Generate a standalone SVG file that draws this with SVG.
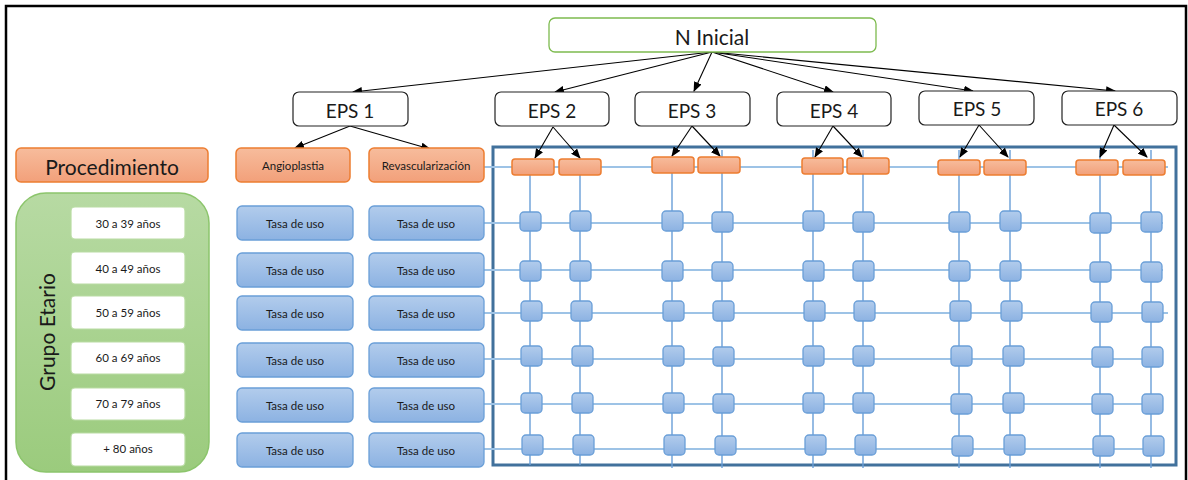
<svg xmlns="http://www.w3.org/2000/svg" width="1188" height="480" viewBox="0 0 1188 480">
<defs>
<linearGradient id="gOr" x1="0" y1="0" x2="0" y2="1"><stop offset="0" stop-color="#F7BC9C"/><stop offset="1" stop-color="#F2A07A"/></linearGradient>
<linearGradient id="gBl" x1="0" y1="0" x2="0" y2="1"><stop offset="0" stop-color="#B2CCEC"/><stop offset="1" stop-color="#8CB2E2"/></linearGradient>
<linearGradient id="gGr" x1="0" y1="0" x2="0" y2="1"><stop offset="0" stop-color="#B7DAA3"/><stop offset="1" stop-color="#9BCB7D"/></linearGradient>
<marker id="arr" markerWidth="10" markerHeight="8" refX="9" refY="4" orient="auto" markerUnits="userSpaceOnUse"><path d="M0,0 L10,4 L0,8 z" fill="#000"/></marker>
<style>
text{font-family:Lato,"Liberation Sans",sans-serif;fill:#1a1a1a;text-anchor:middle;dominant-baseline:central}
.white{fill:#fff;stroke:#222;stroke-width:1.2}
.green{fill:#fff;stroke:#7DBB4F;stroke-width:1.3}
.or{fill:url(#gOr);stroke:#ED7D31;stroke-width:1.5}
.bl{fill:url(#gBl);stroke:#6A9FD8;stroke-width:1.3}
.age{fill:#fff;stroke:#B9DCA3;stroke-width:1.2}
.arrow{stroke:#000;stroke-width:1.1;fill:none;marker-end:url(#arr)}
.hl{stroke:#9DC3E6;stroke-width:2.2;fill:none}
.vl{stroke:#6A9FD8;stroke-width:1.4;fill:none}
.big{font-size:21px}
.eps{font-size:19px}
.sm{font-size:11.5px}
</style>
</defs>
<rect width="1188" height="480" fill="#fff"/>
<path d="M6,480 V6 H1186 V480" fill="none" stroke="#000" stroke-width="2.5"/>

<g id="grid">
<rect x="493" y="147" width="683" height="318" fill="none" stroke="#41719C" stroke-width="3"/>
<path class="hl" d="M484,167 H1168 M484,223 H1163 M484,270 H1163 M484,313 H1168 M484,359 H1163 M484,404 H1163 M484,449 H1163"/>
<path class="vl" d="M530,175 V465 M580,175 V465 M672,173 V468 M722,150 V468 M813,150 V468 M863,150 V468 M959,150 V468 M1010,150 V468 M1100,150 V468 M1151,150 V468"/>
</g>

<g id="connectors">
<path class="arrow" d="M712,52 L353,92"/>
<path class="arrow" d="M712,52 L555,92"/>
<path class="arrow" d="M712,52 L694,91"/>
<path class="arrow" d="M712,52 L833,92"/>
<path class="arrow" d="M712,52 L973,91"/>
<path class="arrow" d="M712,52 L1115,91"/>
<path class="arrow" d="M350,126 L295,148"/>
<path class="arrow" d="M350,126 L430,149"/>
<path class="arrow" d="M553,127 L535,158"/>
<path class="arrow" d="M553,127 L580,158"/>
<path class="arrow" d="M692,126 L672,156"/>
<path class="arrow" d="M692,126 L720,156"/>
<path class="arrow" d="M833,126 L815,157"/>
<path class="arrow" d="M833,126 L862,157"/>
<path class="arrow" d="M979,125 L960,157"/>
<path class="arrow" d="M979,125 L1008,157"/>
<path class="arrow" d="M1114,125 L1100,157"/>
<path class="arrow" d="M1114,125 L1147,157"/>
</g>

<g id="n-inicial"><rect class="green" x="549" y="18" width="327" height="34" rx="6"/><text class="big" x="712" y="36">N Inicial</text></g>
<g id="eps1"><rect class="white" x="293" y="92" width="115" height="34" rx="6"/><text class="eps" x="350" y="110">EPS 1</text></g>
<g id="eps2"><rect class="white" x="495" y="92" width="114" height="34" rx="6"/><text class="eps" x="552" y="110">EPS 2</text></g>
<g id="eps3"><rect class="white" x="635" y="92" width="115" height="34" rx="6"/><text class="eps" x="692" y="110">EPS 3</text></g>
<g id="eps4"><rect class="white" x="777" y="92" width="114" height="34" rx="6"/><text class="eps" x="834" y="110">EPS 4</text></g>
<g id="eps5"><rect class="white" x="919" y="91" width="115" height="34" rx="6"/><text class="eps" x="977" y="108">EPS 5</text></g>
<g id="eps6"><rect class="white" x="1062" y="91" width="115" height="34" rx="6"/><text class="eps" x="1119" y="108">EPS 6</text></g>

<g id="procedimiento"><rect class="or" x="16" y="148" width="192" height="34" rx="5"/><text class="big" x="112" y="166">Procedimiento</text></g>
<g id="angioplastia"><rect class="or" x="236" y="148" width="114" height="34" rx="5"/><text class="sm" x="293" y="165">Angioplastia</text></g>
<g id="revascularizacion"><rect class="or" x="369" y="148" width="115" height="34" rx="5"/><text class="sm" x="426" y="165">Revascularización</text></g>

<g id="eps-proc">
<rect class="or" x="512" y="159" width="42" height="16" rx="3"/>
<rect class="or" x="559" y="159" width="42" height="16" rx="3"/>
<rect class="or" x="652" y="157" width="42" height="16" rx="3"/>
<rect class="or" x="698" y="157" width="42" height="16" rx="3"/>
<rect class="or" x="802" y="158" width="41" height="16" rx="3"/>
<rect class="or" x="847" y="158" width="42" height="16" rx="3"/>
<rect class="or" x="938" y="160" width="42" height="15" rx="3"/>
<rect class="or" x="984" y="160" width="42" height="15" rx="3"/>
<rect class="or" x="1076" y="160" width="42" height="15" rx="3"/>
<rect class="or" x="1123" y="160" width="42" height="15" rx="3"/>
</g>

<g id="grupo-etario">
<rect x="16" y="193" width="193" height="279" rx="30" fill="url(#gGr)" stroke="#8CC56C" stroke-width="1.5"/>
<text x="46" y="332" font-size="21" transform="rotate(-90 46 332)">Grupo Etario</text>
</g>
<g id="age1"><rect class="age" x="71" y="207" width="114" height="32" rx="4"/><text class="sm" x="128" y="223">30 a 39 años</text></g>
<g id="age2"><rect class="age" x="71" y="252" width="114" height="32" rx="4"/><text class="sm" x="128" y="268">40 a 49 años</text></g>
<g id="age3"><rect class="age" x="71" y="296" width="114" height="33" rx="4"/><text class="sm" x="128" y="312">50 a 59 años</text></g>
<g id="age4"><rect class="age" x="71" y="342" width="114" height="32" rx="4"/><text class="sm" x="128" y="357">60 a 69 años</text></g>
<g id="age5"><rect class="age" x="71" y="388" width="114" height="32" rx="4"/><text class="sm" x="128" y="403">70 a 79 años</text></g>
<g id="age6"><rect class="age" x="71" y="433" width="114" height="33" rx="4"/><text class="sm" x="128" y="448">+ 80 años</text></g>

<g id="tasa-col1">
<rect class="bl" x="237" y="206" width="116" height="34" rx="5"/><text class="sm" x="295" y="223">Tasa de uso</text>
<rect class="bl" x="237" y="253" width="116" height="34" rx="5"/><text class="sm" x="295" y="270">Tasa de uso</text>
<rect class="bl" x="237" y="296" width="116" height="34" rx="5"/><text class="sm" x="295" y="313">Tasa de uso</text>
<rect class="bl" x="237" y="343" width="116" height="34" rx="5"/><text class="sm" x="295" y="360">Tasa de uso</text>
<rect class="bl" x="237" y="388" width="116" height="34" rx="5"/><text class="sm" x="295" y="405">Tasa de uso</text>
<rect class="bl" x="237" y="433" width="116" height="34" rx="5"/><text class="sm" x="295" y="450">Tasa de uso</text>
</g>
<g id="tasa-col2">
<rect class="bl" x="369" y="206" width="115" height="34" rx="5"/><text class="sm" x="426" y="223">Tasa de uso</text>
<rect class="bl" x="369" y="253" width="115" height="34" rx="5"/><text class="sm" x="426" y="270">Tasa de uso</text>
<rect class="bl" x="369" y="296" width="115" height="34" rx="5"/><text class="sm" x="426" y="313">Tasa de uso</text>
<rect class="bl" x="369" y="343" width="115" height="34" rx="5"/><text class="sm" x="426" y="360">Tasa de uso</text>
<rect class="bl" x="369" y="388" width="115" height="34" rx="5"/><text class="sm" x="426" y="405">Tasa de uso</text>
<rect class="bl" x="369" y="433" width="115" height="34" rx="5"/><text class="sm" x="426" y="450">Tasa de uso</text>
</g>

<g id="cells">
<rect class="bl" x="520" y="212" width="21" height="19" rx="4"/><rect class="bl" x="570" y="211" width="21" height="20" rx="4"/><rect class="bl" x="662" y="211" width="21" height="20" rx="4"/><rect class="bl" x="712" y="212" width="21" height="20" rx="4"/><rect class="bl" x="803" y="211" width="21" height="20" rx="4"/><rect class="bl" x="853" y="212" width="21" height="20" rx="4"/><rect class="bl" x="949" y="212" width="21" height="20" rx="4"/><rect class="bl" x="1000" y="211" width="21" height="20" rx="4"/><rect class="bl" x="1090" y="213" width="21" height="20" rx="4"/><rect class="bl" x="1141" y="212" width="21" height="20" rx="4"/>
<rect class="bl" x="520" y="261" width="21" height="20" rx="4"/><rect class="bl" x="570" y="261" width="21" height="20" rx="4"/><rect class="bl" x="662" y="261" width="21" height="20" rx="4"/><rect class="bl" x="712" y="262" width="21" height="19" rx="4"/><rect class="bl" x="803" y="261" width="21" height="20" rx="4"/><rect class="bl" x="853" y="261" width="21" height="20" rx="4"/><rect class="bl" x="949" y="261" width="21" height="20" rx="4"/><rect class="bl" x="1000" y="261" width="21" height="20" rx="4"/><rect class="bl" x="1090" y="262" width="21" height="20" rx="4"/><rect class="bl" x="1141" y="262" width="21" height="20" rx="4"/>
<rect class="bl" x="521" y="301" width="21" height="20" rx="4"/><rect class="bl" x="571" y="301" width="21" height="20" rx="4"/><rect class="bl" x="663" y="301" width="21" height="20" rx="4"/><rect class="bl" x="713" y="301" width="21" height="20" rx="4"/><rect class="bl" x="804" y="301" width="21" height="20" rx="4"/><rect class="bl" x="854" y="301" width="21" height="20" rx="4"/><rect class="bl" x="950" y="301" width="21" height="20" rx="4"/><rect class="bl" x="1001" y="301" width="21" height="20" rx="4"/><rect class="bl" x="1091" y="302" width="21" height="20" rx="4"/><rect class="bl" x="1142" y="302" width="21" height="20" rx="4"/>
<rect class="bl" x="521" y="346" width="21" height="20" rx="4"/><rect class="bl" x="572" y="346" width="21" height="20" rx="4"/><rect class="bl" x="663" y="346" width="21" height="20" rx="4"/><rect class="bl" x="713" y="347" width="21" height="19" rx="4"/><rect class="bl" x="803" y="346" width="21" height="20" rx="4"/><rect class="bl" x="853" y="346" width="21" height="20" rx="4"/><rect class="bl" x="951" y="346" width="21" height="20" rx="4"/><rect class="bl" x="1003" y="346" width="21" height="20" rx="4"/><rect class="bl" x="1092" y="347" width="21" height="20" rx="4"/><rect class="bl" x="1142" y="347" width="21" height="20" rx="4"/>
<rect class="bl" x="521" y="393" width="21" height="20" rx="4"/><rect class="bl" x="572" y="393" width="21" height="20" rx="4"/><rect class="bl" x="663" y="393" width="21" height="20" rx="4"/><rect class="bl" x="713" y="394" width="21" height="19" rx="4"/><rect class="bl" x="803" y="393" width="21" height="20" rx="4"/><rect class="bl" x="853" y="393" width="21" height="20" rx="4"/><rect class="bl" x="951" y="394" width="21" height="20" rx="4"/><rect class="bl" x="1003" y="393" width="21" height="20" rx="4"/><rect class="bl" x="1092" y="394" width="21" height="20" rx="4"/><rect class="bl" x="1142" y="394" width="21" height="20" rx="4"/>
<rect class="bl" x="522" y="435" width="21" height="20" rx="4"/><rect class="bl" x="573" y="435" width="21" height="20" rx="4"/><rect class="bl" x="664" y="435" width="21" height="20" rx="4"/><rect class="bl" x="715" y="436" width="21" height="19" rx="4"/><rect class="bl" x="805" y="435" width="21" height="20" rx="4"/><rect class="bl" x="855" y="435" width="21" height="20" rx="4"/><rect class="bl" x="952" y="436" width="21" height="20" rx="4"/><rect class="bl" x="1004" y="435" width="21" height="20" rx="4"/><rect class="bl" x="1093" y="436" width="21" height="20" rx="4"/><rect class="bl" x="1143" y="436" width="21" height="20" rx="4"/>
</g>
</svg>
